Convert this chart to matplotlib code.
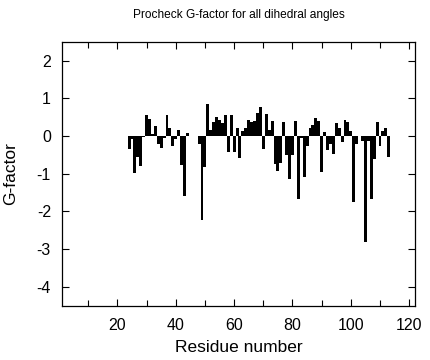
import numpy as np
import matplotlib
matplotlib.use("Agg")
import matplotlib.pyplot as plt
from matplotlib.ticker import FixedLocator

plt.rcParams['font.family'] = ['Liberation Sans', 'DejaVu Sans']

# residue numbers and Procheck G-factor values
residues = list(range(24, 114))
gfactor = [
    -0.34, -0.08, -0.97, -0.57, -0.80, -0.02, 0.55, 0.45, 0.05, 0.26,   # 24-33
    -0.20, -0.31, -0.05, 0.56, 0.20, -0.26, -0.08, 0.17, -0.77, -1.58,  # 34-43
    0.09, 0.00, 0.00, 0.00, -0.21, -2.24, -0.81, 0.85, 0.15, 0.38,      # 44-53
    0.50, 0.42, 0.35, 0.55, -0.43, 0.56, -0.42, 0.20, -0.58, 0.12,      # 54-63
    0.20, 0.42, 0.36, 0.40, 0.60, 0.76, -0.35, 0.58, 0.17, 0.39,        # 64-73
    -0.74, -0.94, -0.72, 0.36, -0.50, -1.14, -0.50, 0.39, -1.66, -0.05, # 74-83
    -1.10, -0.26, 0.20, 0.30, 0.49, 0.39, -0.96, 0.10, -0.37, -0.22,    # 84-93
    -0.48, 0.34, 0.22, -0.17, 0.42, 0.38, 0.12, -1.76, -0.20, 0.00,     # 94-103
    -0.12, -2.81, -0.12, -1.67, -0.61, 0.38, -0.26, 0.12, 0.22, -0.55,  # 104-113
]

xlabels = [20, 40, 60, 80, 100, 120]
yticks = [2, 1, 0, -1, -2, -3, -4]

fig = plt.figure(figsize=(4.31, 3.60), dpi=100)
ax = fig.add_axes([62 / 431, 54.3 / 360, 353 / 431, 264 / 360])

ax.bar(residues, gfactor, width=1.0, color='black', linewidth=0)

ax.set_xlim(1, 122)
ax.set_ylim(-4.5, 2.5)

ax.xaxis.set_major_locator(FixedLocator(xlabels))
ax.xaxis.set_minor_locator(FixedLocator([10, 30, 50, 70, 90, 110]))
ax.set_yticks(yticks)
ax.set_yticklabels([str(v) for v in yticks])

ax.tick_params(which='both', direction='in', top=True, right=True,
               width=0.8, labelsize=11.5, color='black')
ax.tick_params(axis='x', which='major', length=5, pad=9)
ax.tick_params(axis='x', which='minor', length=4)
ax.tick_params(axis='y', which='major', length=5, pad=8)

for s in ax.spines.values():
    s.set_linewidth(0.9)

ax.set_xlabel('Residue number', fontsize=12.5, labelpad=5)
ax.set_ylabel('G-factor', fontsize=12.5, labelpad=13)
fig.text(238.5 / 431, 1 - 15 / 360, 'Procheck G-factor for all dihedral angles',
         ha='center', va='center', fontsize=8.6)

fig.savefig('out.png', dpi=100)
